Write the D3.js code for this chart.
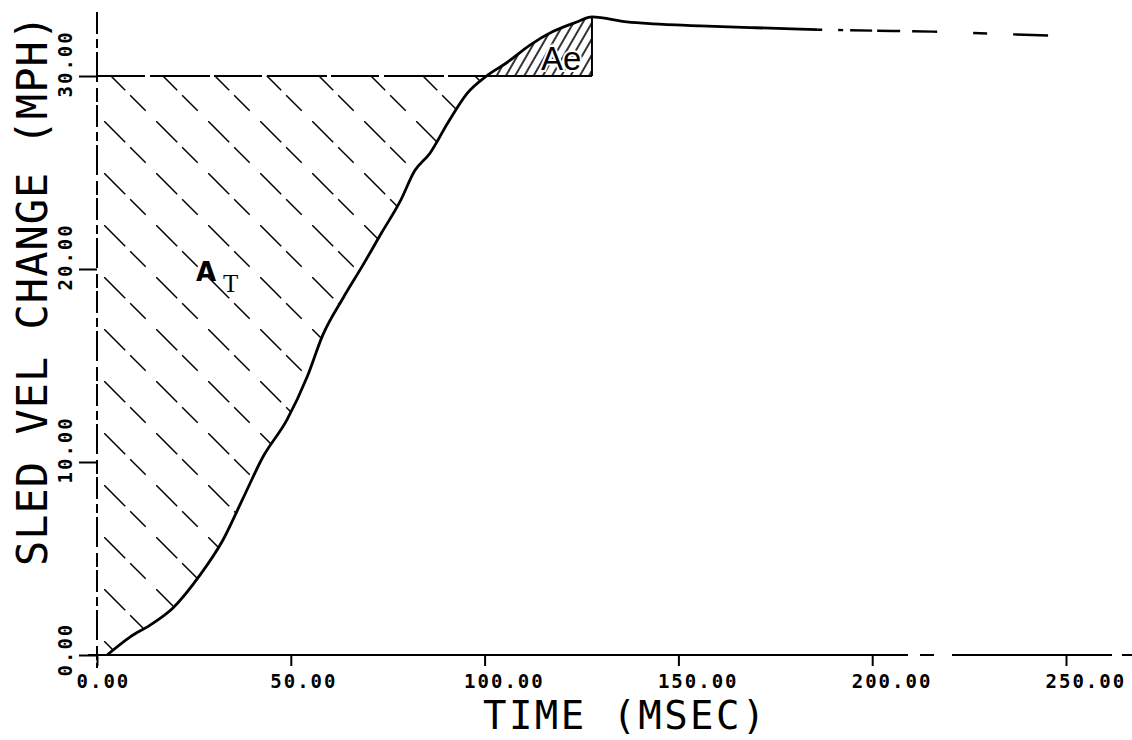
<!DOCTYPE html>
<html>
<head>
<meta charset="utf-8">
<script src="https://cdn.jsdelivr.net/npm/d3@7/dist/d3.min.js"></script>
<style>
  html, body { margin: 0; padding: 0; background: #fff; }
  svg { display: block; }
</style>
</head>
<body>
<div id="chart"></div>
<script>
// ---- data ----
const timeMs = [2.6, 8.5, 13.7, 19.6, 26.6, 32.5, 37.7, 42.8, 49.0, 54.2, 58.3, 63.5, 68.6, 73.5, 78.2, 82.0, 85.9, 90.6, 95.5, 100.5, 105.8, 111.7, 117.6, 123.8, 127.7, 136.7, 143.4, 155.6, 170.0, 185.8, 200.0, 215.7, 230.0, 245.4];
const velMph = [0.0, 0.93, 1.55, 2.44, 4.15, 5.96, 8.13, 10.26, 12.18, 14.4, 16.6, 18.5, 20.2, 21.9, 23.5, 25.1, 26.0, 27.6, 29.1, 30.0, 30.7, 31.6, 32.3, 32.8, 33.06, 32.8, 32.7, 32.6, 32.5, 32.4, 32.35, 32.3, 32.2, 32.1];
const xTicks = [0, 50, 100, 150, 200, 250];
const yTicks = [0, 10, 20, 30];
const targetVel = 30;        // horizontal reference level
const crossTime = 100.5;     // curve reaches 30 mph
const peakTime = 127.7;      // end of the Ae region
const dashStartTime = 185.8; // trace becomes broken after this
const xTitle = "TIME (MSEC)";
const yTitle = "SLED VEL CHANGE (MPH)";

const W = 1132, H = 740;
const svg = d3.select("#chart").append("svg").attr("width", W).attr("height", H);
svg.append("rect").attr("width", W).attr("height", H).attr("fill", "#fff");

const x = d3.scaleLinear().domain([0, 250]).range([97, 1066]);
const y = d3.scaleLinear().domain([0, 30]).range([655, 76]);

const pts = timeMs.map((t, i) => [t, velMph[i]]);

// ---- patterns ----
const defs = svg.append("defs");
const pT = defs.append("pattern").attr("id", "hatchT")
  .attr("patternUnits", "userSpaceOnUse")
  .attr("x", 0).attr("y", 17).attr("width", 52).attr("height", 52);
pT.append("line").attr("x1", 0).attr("y1", 0).attr("x2", 52).attr("y2", 52)
  .attr("stroke", "#000").attr("stroke-width", 1.5)
  .attr("stroke-dasharray", "30,7,22,14.54");
const pE = defs.append("pattern").attr("id", "hatchE")
  .attr("patternUnits", "userSpaceOnUse")
  .attr("width", 8).attr("height", 8)
  .attr("patternTransform", "rotate(30)");
pE.append("line").attr("x1", 4).attr("y1", -1).attr("x2", 4).attr("y2", 9)
  .attr("stroke", "#000").attr("stroke-width", 1.6);

const lin = d3.line().x(d => x(d[0])).y(d => y(d[1]));

// A_T region: axis, curve up to 30 mph, 30 mph line
const regionT = [[0, 0]].concat(pts.filter(d => d[0] <= crossTime)).concat([[0, targetVel]]);
svg.append("path").attr("d", lin(regionT) + "Z").attr("fill", "url(#hatchT)");

// Ae region: curve above 30 mph until peak
const regionE = [[crossTime, targetVel]].concat(pts.filter(d => d[0] > crossTime && d[0] <= peakTime)).concat([[peakTime, targetVel]]);
svg.append("path").attr("d", lin(regionE) + "Z").attr("fill", "url(#hatchE)");

// 30 mph line: broken over A_T, solid under Ae
svg.append("line").attr("x1", x(0)).attr("x2", x(crossTime))
  .attr("y1", y(targetVel)).attr("y2", y(targetVel))
  .attr("stroke", "#000").attr("stroke-width", 1.8).attr("stroke-dasharray", "48,5,60,4");
svg.append("line").attr("x1", x(crossTime)).attr("x2", x(peakTime))
  .attr("y1", y(targetVel)).attr("y2", y(targetVel))
  .attr("stroke", "#000").attr("stroke-width", 2);
const peakV = velMph[timeMs.indexOf(peakTime)];
svg.append("line").attr("x1", x(peakTime)).attr("x2", x(peakTime))
  .attr("y1", y(targetVel)).attr("y2", y(peakV))
  .attr("stroke", "#000").attr("stroke-width", 2);

// ---- axes ----
const xAxis = d3.axisBottom(x).tickValues(xTicks).tickSize(11).tickFormat(d3.format(".2f"));
const gx = svg.append("g").attr("transform", `translate(0,${y(0)})`).call(xAxis);
gx.select(".domain").remove();
gx.selectAll(".tick line").attr("stroke", "#000").attr("stroke-width", 2);
gx.selectAll(".tick text")
  .attr("x", -21).attr("y", 33).attr("dy", null)
  .attr("text-anchor", "start")
  .attr("fill", "#000")
  .style("font-family", "'DejaVu Sans Mono', monospace")
  .style("font-weight", "bold")
  .style("font-size", "19px")
  .style("letter-spacing", "2px");

const yAxis = d3.axisLeft(y).tickValues(yTicks).tickSize(18).tickFormat(d3.format(".2f"));
const gy = svg.append("g").attr("transform", `translate(${x(0)},0)`).call(yAxis);
gy.select(".domain").remove();
gy.selectAll(".tick line").attr("stroke", "#000").attr("stroke-width", 2);
gy.selectAll(".tick text")
  .attr("x", 0).attr("y", 0).attr("dy", null)
  .attr("transform", "translate(-25,21) rotate(-90)")
  .attr("text-anchor", "start")
  .attr("fill", "#000")
  .style("font-family", "'DejaVu Sans Mono', monospace")
  .style("font-weight", "bold")
  .style("font-size", "19px")
  .style("letter-spacing", "2px");

// axis lines (broken, as in the plotter copy)
svg.append("line").attr("x1", x(0)).attr("x2", x(0)).attr("y1", 12).attr("y2", y(0) + 13)
  .attr("stroke", "#000").attr("stroke-width", 2).attr("stroke-dasharray", "22,5,9,4,30,6,14,3");
svg.append("line").attr("x1", x(0) - 9).attr("x2", W).attr("y1", y(0)).attr("y2", y(0))
  .attr("stroke", "#000").attr("stroke-width", 2).attr("stroke-dasharray", "820,12,14,18,160,10,10");

// ---- trace ----
const curve = d3.line().x(d => x(d[0])).y(d => y(d[1])).curve(d3.curveMonotoneX);
svg.append("path").attr("d", curve(pts.filter(d => d[0] <= dashStartTime)))
  .attr("fill", "none").attr("stroke", "#000").attr("stroke-width", 2.8)
  .attr("stroke-linejoin", "round");
svg.append("path").attr("d", curve(pts.filter(d => d[0] >= dashStartTime)))
  .attr("fill", "none").attr("stroke", "#000").attr("stroke-width", 2.4)
  .attr("stroke-dasharray", "5,16,5,7,22,5,23,12,25,36,14,26,35");

// ---- region labels ----
const at = svg.append("text").attr("x", 196).attr("y", 281)
  .attr("fill", "#000")
  .style("font-family", "'DejaVu Sans', sans-serif")
  .style("font-weight", "bold")
  .style("font-size", "26px");
at.append("tspan").text("A");
at.append("tspan").attr("x", 223).attr("y", 292)
  .style("font-family", "'Liberation Serif', serif")
  .style("font-weight", "normal")
  .style("font-size", "25px").text("T");

svg.append("text").attr("x", 541).attr("y", 70)
  .attr("fill", "#000")
  .attr("stroke", "#fff").attr("stroke-width", 4).attr("paint-order", "stroke")
  .style("font-family", "'Liberation Sans', sans-serif")
  .style("font-size", "33px").text("Ae");

// ---- titles ----
svg.append("text").attr("x", 483).attr("y", 729)
  .attr("fill", "#000")
  .style("font-family", "'DejaVu Sans Mono', monospace")
  .style("font-size", "39px")
  .style("letter-spacing", "2.4px")
  .text(xTitle);
svg.append("text").attr("transform", "translate(47,566) rotate(-90)")
  .attr("fill", "#000")
  .style("font-family", "'DejaVu Sans Mono', monospace")
  .style("font-size", "42px")
  .style("letter-spacing", "1px")
  .text(yTitle);
</script>
</body>
</html>
